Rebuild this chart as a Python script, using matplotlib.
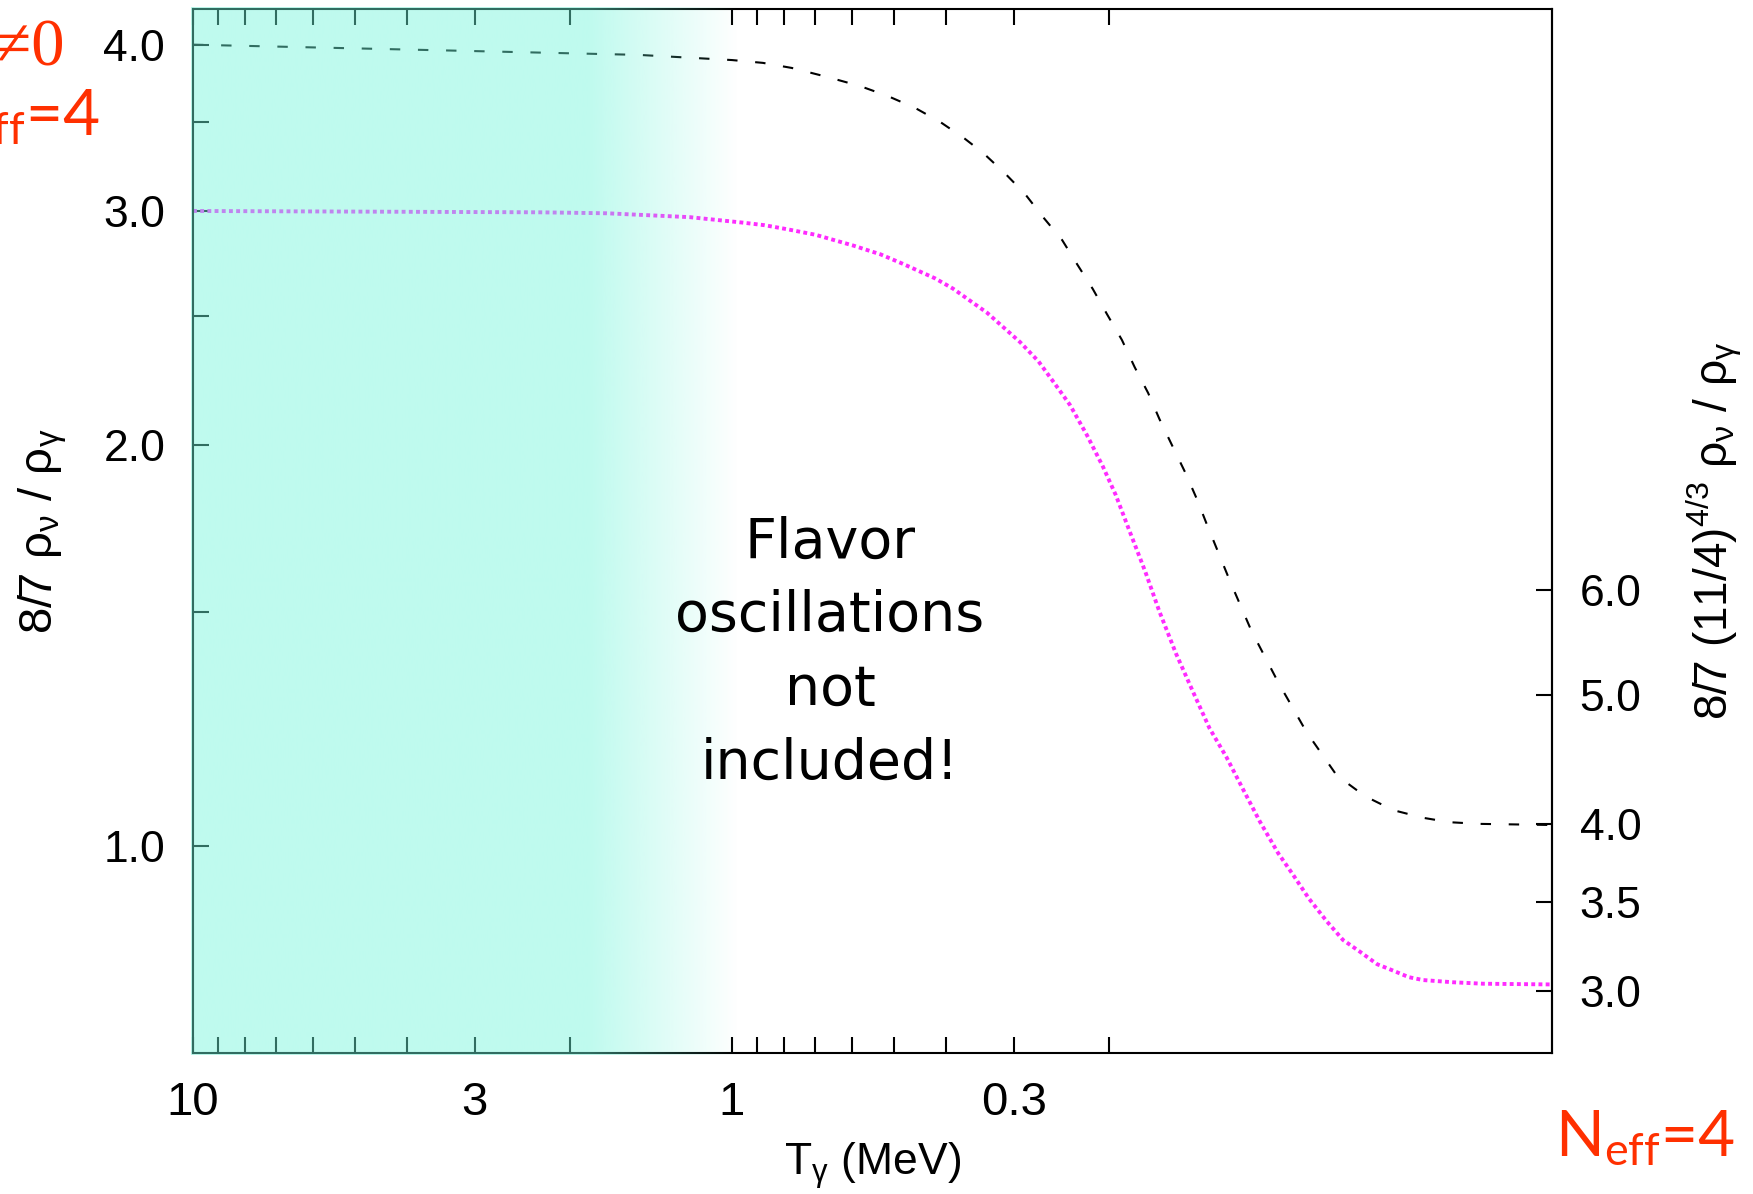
import numpy as np
import matplotlib
matplotlib.use("Agg")
import matplotlib.pyplot as plt
from matplotlib.ticker import NullFormatter, NullLocator

# T_gamma (MeV) and 8/7 rho_nu / rho_gamma
T_DASH = [10.0, 3.36, 1.49, 1.0, 0.876, 0.774, 0.666, 0.579, 0.514, 0.457,
          0.411, 0.370, 0.342, 0.312, 0.286, 0.265, 0.244, 0.229, 0.214, 0.2015,
          0.189, 0.179, 0.169, 0.161, 0.152, 0.144, 0.137, 0.1316, 0.119, 0.1086,
          0.0969, 0.0859, 0.0755, 0.0669, 0.0593, 0.0522, 0.0466, 0.041, 0.0301]
R_DASH = [4.00, 3.96, 3.93, 3.895, 3.876, 3.842, 3.783, 3.724, 3.66, 3.585,
          3.50, 3.40, 3.317, 3.204, 3.09, 2.97, 2.853, 2.737, 2.621, 2.51,
          2.40, 2.29, 2.19, 2.093, 1.994, 1.906, 1.82, 1.746, 1.58, 1.45,
          1.327, 1.218, 1.13, 1.09, 1.064, 1.05, 1.042, 1.039, 1.037]

T_DOT = [10.0, 2.27, 1.706, 1.197, 0.954, 0.87, 0.791, 0.70, 0.596, 0.53,
         0.482, 0.42, 0.389, 0.336, 0.292, 0.27, 0.254, 0.236, 0.2195, 0.205,
         0.194, 0.183, 0.171, 0.161, 0.15, 0.1394, 0.13, 0.1209, 0.1125, 0.1048,
         0.097, 0.0909, 0.085, 0.0788, 0.0735, 0.0684, 0.0635, 0.0593, 0.0555, 0.0522,
         0.046, 0.0404, 0.0301]
R_DOT = [3.00, 2.993, 2.988, 2.968, 2.94, 2.927, 2.907, 2.879, 2.826, 2.783,
         2.738, 2.670, 2.623, 2.515, 2.391, 2.313, 2.236, 2.145, 2.036, 1.928,
         1.835, 1.725, 1.607, 1.50, 1.395, 1.305, 1.226, 1.166, 1.102, 1.043,
         0.988, 0.951, 0.913, 0.878, 0.850, 0.833, 0.815, 0.806, 0.797, 0.793,
         0.790, 0.788, 0.787]

XMAJOR = [10, 3, 1, 0.3]
XMAJOR_LABELS = ["10", "3", "1", "0.3"]
XMINOR = [9, 8, 7, 6, 5, 4, 2, 0.9, 0.8, 0.7, 0.6, 0.5, 0.4, 0.2]
YMAJOR = [1.0, 2.0, 3.0, 4.0]
YMAJOR_LABELS = ["1.0", "2.0", "3.0", "4.0"]
YMINOR = [1.5, 2.5, 3.5]
Y2TICKS = [3.0, 3.5, 4.0, 5.0, 6.0]
Y2LABELS = ["3.0", "3.5", "4.0", "5.0", "6.0"]

K = (11 / 4) ** (4 / 3)   # right axis = K * left axis
XLIM = (10, 0.0301)
YLIM = (0.699, 4.255)

# shaded band: solid down to T_SOLID, faded out by T_FADE
T_SOLID = 1.85
T_FADE = 0.97
SHADE_RGB = (112, 245, 218)
SHADE_ALPHA = 0.45

RED = "#ff3000"
NARROW = ["Liberation Sans Narrow", "Liberation Sans", "DejaVu Sans"]

plt.rcParams["font.family"] = ["Liberation Sans", "DejaVu Sans"]
plt.rcParams["mathtext.fontset"] = "custom"
plt.rcParams["mathtext.rm"] = "Liberation Sans"
plt.rcParams["mathtext.it"] = "Liberation Sans"
plt.rcParams["mathtext.default"] = "regular"

fig = plt.figure(figsize=(17.53, 11.94), dpi=100)
ax = fig.add_axes([0.1101, 0.1181, 0.7752, 0.8744])
ax.set_xscale("log")
ax.set_yscale("log")
ax.set_xlim(*XLIM)
ax.set_ylim(*YLIM)

ax.plot(T_DASH, R_DASH, color="black", lw=1.5, dashes=(5, 8.5))
ax.plot(T_DOT, R_DOT, color="#ff2bff", lw=2.8, dashes=(1.0, 0.85))

# ticks
ax.set_xticks(XMAJOR, XMAJOR_LABELS, fontfamily=NARROW)
ax.set_xticks(XMINOR, minor=True)
ax.xaxis.set_minor_formatter(NullFormatter())
ax.set_yticks(YMAJOR, YMAJOR_LABELS)
ax.set_yticks(YMINOR, minor=True)
ax.yaxis.set_minor_formatter(NullFormatter())
ax.tick_params(axis="both", which="both", direction="in", length=11.5,
               width=1.5, pad=20)
ax.tick_params(axis="x", which="both", top=True, bottom=True, labelsize=34)
ax.tick_params(axis="y", which="both", left=True, right=False, labelsize=32)
for s in ax.spines.values():
    s.set_linewidth(1.5)

ax2 = ax.twinx()
ax2.set_yscale("log")
ax2.set_ylim(YLIM[0] * K, YLIM[1] * K)
ax2.set_yticks(Y2TICKS, Y2LABELS)
ax2.yaxis.set_minor_locator(NullLocator())
ax2.tick_params(axis="y", which="both", direction="in", length=11.5,
                width=1.5, pad=20, labelsize=32)
for side in ["left", "top", "bottom"]:
    ax2.spines[side].set_visible(False)
ax2.spines["right"].set_linewidth(1.5)

# labels
ax.set_ylabel(r"8/7 $\rho_\nu$ / $\rho_\gamma$", fontsize=34)
ax.yaxis.set_label_coords(-0.0912, 0.5)
ax2.set_ylabel(r"8/7 (11/4)$^{4/3}$ $\rho_\nu$ / $\rho_\gamma$", fontsize=33,
               rotation=90)
ax2.yaxis.set_label_coords(1.097, 0.5)
ax.set_xlabel(r"T$_\gamma$ (MeV)", fontsize=32, fontfamily=NARROW)
ax.xaxis.set_label_coords(0.5, -0.0833)

# cyan overlay (drawn on top of curves, spines and ticks)
to_axes = ax.transScale + ax.transLimits
x_solid = to_axes.transform((T_SOLID, 1.0))[0]
x_fade = to_axes.transform((T_FADE, 1.0))[0]
px, py = 0.0012, 0.0016
xs = np.linspace(-px, x_fade, 800)
img = np.zeros((1, xs.size, 4))
img[..., :3] = np.array(SHADE_RGB) / 255
img[0, :, 3] = np.clip((x_fade - xs) / (x_fade - x_solid), 0, 1) * SHADE_ALPHA
ax.imshow(img, extent=[-px, x_fade, -py, 1 + py], transform=ax.transAxes,
          aspect="auto", interpolation="bilinear", zorder=10, clip_on=False)

fig.text(0.4735, 0.4531, "Flavor\noscillations\nnot\nincluded!",
         ha="center", va="center", fontsize=40, fontfamily="DejaVu Sans",
         linespacing=1.47, zorder=20)

# red side notes (partly cut off at the left edge, as in the slide)
fig.text(0.0371, 0.9456, "ξ≠0", ha="right", va="baseline", fontsize=48,
         fontfamily=["Liberation Serif", "DejaVu Serif"], color=RED)
fig.text(0.0570, 0.8869, r"N$_{eff}$=4", ha="right", va="baseline",
         fontsize=46, fontfamily="Lato", color=RED)
fig.text(0.9897, 0.0318, r"N$_{eff}$=4", ha="right", va="baseline",
         fontsize=46, fontfamily="Lato", color=RED)

fig.savefig("out.png", dpi=100)
